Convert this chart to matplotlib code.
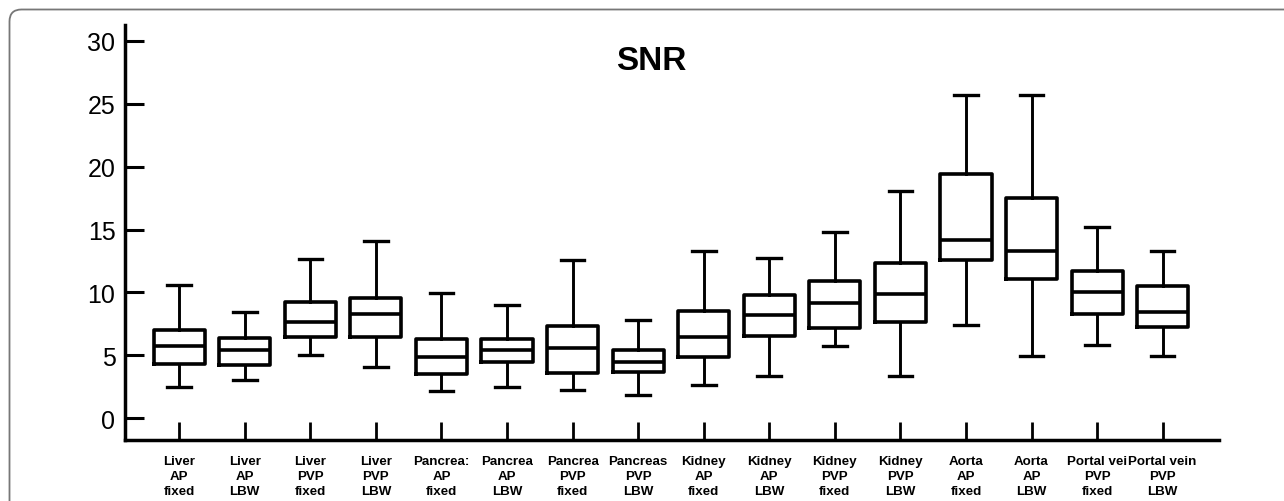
import matplotlib
matplotlib.use("Agg")
import matplotlib.pyplot as plt
from matplotlib.patches import FancyBboxPatch
from matplotlib.transforms import IdentityTransform

plt.rcParams['font.family'] = ['Liberation Sans', 'DejaVu Sans']

labels = ["Liver\nAP\nfixed", "Liver\nAP\nLBW", "Liver\nPVP\nfixed", "Liver\nPVP\nLBW",
          "Pancrea:\nAP\nfixed", "Pancrea\nAP\nLBW", "Pancrea\nPVP\nfixed", "Pancreas\nPVP\nLBW",
          "Kidney\nAP\nfixed", "Kidney\nAP\nLBW", "Kidney\nPVP\nfixed", "Kidney\nPVP\nLBW",
          "Aorta\nAP\nfixed", "Aorta\nAP\nLBW", "Portal vei\nPVP\nfixed", "Portal vein\nPVP\nLBW"]

whisker_low  = [2.46, 3.04, 5.03, 4.05, 2.19, 2.51, 2.27, 1.85, 2.64, 3.34, 5.72, 3.38, 7.44, 4.92, 5.82, 4.92]
q1           = [4.35, 4.26, 6.46, 6.43, 3.54, 4.45, 3.60, 3.70, 4.84, 6.56, 7.15, 7.67, 12.57, 11.06, 8.28, 7.23]
medians      = [5.74, 5.42, 7.62, 8.28, 4.84, 5.45, 5.56, 4.50, 6.48, 8.20, 9.16, 9.90, 14.19, 13.26, 10.06, 8.47]
q3           = [7.02, 6.35, 9.21, 9.56, 6.32, 6.32, 7.31, 5.45, 8.55, 9.79, 10.93, 12.31, 19.43, 17.50, 11.73, 10.48]
whisker_high = [10.59, 8.42, 12.65, 14.06, 9.95, 9.02, 12.57, 7.81, 13.26, 12.76, 14.77, 18.08, 25.70, 25.70, 15.17, 13.31]

yticks = [0, 5, 10, 15, 20, 25, 30]

fig = plt.figure(figsize=(12.84, 5.02), dpi=100)
ax = fig.add_axes([0.0975, 0.1215, 0.8519, 0.8265])

stats = []
for lo, a, m, b, hi in zip(whisker_low, q1, medians, q3, whisker_high):
    stats.append(dict(whislo=lo, q1=a, med=m, q3=b, whishi=hi, fliers=[]))

positions = list(range(1, len(stats) + 1))
ax.bxp(stats, positions=positions, widths=0.78, capwidths=0.36, showfliers=False,
       boxprops=dict(color='black', linewidth=2.6),
       medianprops=dict(color='black', linewidth=2.6),
       whiskerprops=dict(color='black', linewidth=2.1),
       capprops=dict(color='black', linewidth=2.4))

ax.set_xlim(0.176, 16.86)
ax.set_ylim(-1.72, 31.24)
ax.set_yticks(yticks)
ax.set_xticks(positions)
ax.set_xticklabels(labels, fontsize=9.6, fontweight='bold')
for lbl in ax.get_xticklabels():
    lbl.set_linespacing(1.32)

for s in ['top', 'right']:
    ax.spines[s].set_visible(False)
for s in ['left', 'bottom']:
    ax.spines[s].set_linewidth(2.5)

ax.tick_params(axis='y', direction='in', length=13.5, width=2.2, labelsize=18, pad=7)
ax.tick_params(axis='x', direction='in', length=13.2, width=2.0, pad=11)

fig.text(0.5076, 0.877, "SNR", fontsize=24, fontweight='bold', ha='center', va='center')

frame = FancyBboxPatch((9.5, -40), 1320, 502 - 10.5 + 40,
                       boxstyle="round,pad=0,rounding_size=12",
                       transform=IdentityTransform(), fill=False,
                       edgecolor='#777777', linewidth=1.3)
fig.patches.append(frame)

fig.savefig("out.png", dpi=100)
